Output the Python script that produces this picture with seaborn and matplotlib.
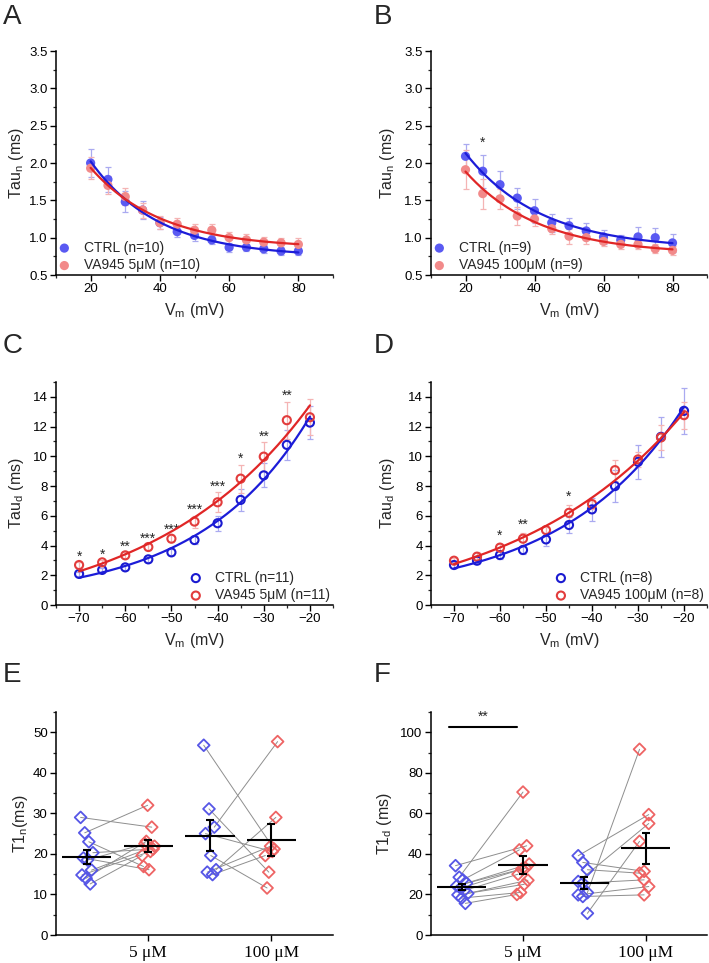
import numpy as np
import matplotlib
matplotlib.use("Agg")
import matplotlib.pyplot as plt
import seaborn as sns
from matplotlib.ticker import MultipleLocator

# ---------------- data ----------------
vm_act = [20, 25, 30, 35, 40, 45, 50, 55, 60, 65, 70, 75, 80]
vm_inact = [-70, -65, -60, -55, -50, -45, -40, -35, -30, -25, -20]

# A: Tau_n, CTRL vs VA945 5 uM
a_ctrl = [2.00, 1.78, 1.48, 1.37, 1.20, 1.08, 1.03, 0.97, 0.87, 0.87, 0.85, 0.82, 0.82]
a_ctrl_err = [0.19, 0.17, 0.14, 0.12, 0.08, 0.07, 0.07, 0.06, 0.06, 0.05, 0.05, 0.05, 0.05]
a_va = [1.93, 1.70, 1.55, 1.37, 1.20, 1.18, 1.10, 1.10, 1.00, 0.97, 0.94, 0.93, 0.91]
a_va_err = [0.15, 0.12, 0.11, 0.10, 0.09, 0.09, 0.08, 0.08, 0.08, 0.08, 0.07, 0.07, 0.08]

# B: Tau_n, CTRL vs VA945 100 uM
b_ctrl = [2.09, 1.89, 1.71, 1.53, 1.36, 1.20, 1.16, 1.09, 1.01, 0.97, 1.01, 1.00, 0.93]
b_ctrl_err = [0.16, 0.22, 0.18, 0.14, 0.16, 0.12, 0.10, 0.11, 0.09, 0.06, 0.13, 0.13, 0.12]
b_va = [1.91, 1.59, 1.52, 1.29, 1.25, 1.12, 1.02, 1.00, 0.95, 0.91, 0.91, 0.85, 0.83]
b_va_err = [0.26, 0.20, 0.13, 0.12, 0.10, 0.07, 0.10, 0.08, 0.06, 0.06, 0.06, 0.06, 0.06]
b_stars = {25: "*"}

# C: Tau_d, CTRL vs VA945 5 uM
c_ctrl = [2.09, 2.36, 2.53, 3.07, 3.54, 4.37, 5.50, 7.07, 8.72, 10.77, 12.27]
c_ctrl_err = [0.15, 0.15, 0.15, 0.15, 0.20, 0.30, 0.50, 0.75, 0.80, 1.00, 1.10]
c_va = [2.69, 2.87, 3.34, 3.90, 4.46, 5.61, 6.91, 8.50, 9.98, 12.43, 12.63]
c_va_err = [0.20, 0.15, 0.20, 0.20, 0.25, 0.40, 0.67, 0.95, 1.00, 1.25, 1.20]
c_stars = {-70: "*", -65: "*", -60: "**", -55: "***", -50: "***", -45: "***",
           -40: "***", -35: "*", -30: "**", -25: "**"}

# D: Tau_d, CTRL vs VA945 100 uM
d_ctrl = [2.69, 2.98, 3.36, 3.70, 4.41, 5.38, 6.43, 8.00, 9.63, 11.31, 13.06]
d_ctrl_err = [0.20, 0.25, 0.25, 0.30, 0.45, 0.55, 0.75, 1.05, 1.15, 1.35, 1.55]
d_va = [2.98, 3.25, 3.86, 4.46, 5.04, 6.20, 6.79, 9.07, 9.79, 11.27, 12.77]
d_va_err = [0.20, 0.30, 0.25, 0.40, 0.20, 0.55, 0.30, 0.70, 0.50, 0.85, 0.90]
d_stars = {-60: "*", -55: "**", -45: "*"}

# E: T1_n paired cells (ctrl -> drug)
e_ctrl5 = [29.0, 25.2, 23.0, 20.3, 19.0, 18.5, 16.0, 14.8, 14.0, 12.6]
e_va5 = [26.6, 32.0, 16.9, 21.2, 16.1, 22.5, 21.9, 20.6, 23.1, 19.6]
e_ctrl100 = [46.8, 31.1, 26.6, 25.0, 19.6, 16.1, 15.5, 14.9]
e_va100 = [21.2, 15.5, 47.7, 20.6, 11.6, 29.0, 21.9, 19.6]

# F: T1_d paired cells (ctrl -> drug)
f_ctrl5 = [34.2, 28.5, 27.2, 25.6, 24.3, 23.1, 21.9, 20.5, 19.8, 18.2, 15.6]
f_va5 = [44.0, 70.5, 42.0, 35.0, 33.0, 32.5, 30.0, 27.0, 25.0, 21.0, 20.0]
f_ctrl100 = [39.1, 35.8, 32.2, 26.4, 25.6, 20.9, 19.8, 19.0, 10.7]
f_va100 = [59.4, 31.4, 30.5, 55.0, 27.2, 91.6, 23.9, 19.8, 46.2]

dose_labels = ["5 \u03bcM", "100 \u03bcM"]

# ---------------- style ----------------
sns.set_style("ticks")
plt.rcParams['font.family'] = ['Liberation Sans', 'DejaVu Sans']
plt.rcParams['mathtext.default'] = 'regular'

BLUE_PT, RED_PT = "#5a5af2", "#f28a8a"
BLUE_ERR, RED_ERR = "#aaaaf0", "#f4b4b4"
BLUE_LN, RED_LN = "#1c1cd8", "#e02626"
BLUE_OPEN, RED_OPEN = "#1a1ad0", "#e23c3c"
BLUE_D, RED_D = "#5656e6", "#ee6464"


def exp_fit(x, y, sign):
    # y = a + b*exp(sign*x/tau), tau found by grid search, a/b by least squares
    x = np.asarray(x, float)
    y = np.asarray(y, float)
    best = None
    for tau in np.linspace(2, 120, 600):
        A = np.column_stack([np.ones_like(x), np.exp(sign * x / tau)])
        coef = np.linalg.lstsq(A, y, rcond=None)[0]
        r = np.sum((A @ coef - y) ** 2)
        if best is None or r < best[0]:
            best = (r, tau, coef)
    _, tau, coef = best
    xs = np.linspace(x.min(), x.max(), 200)
    return xs, coef[0] + coef[1] * np.exp(sign * xs / tau)


def style_axis(ax):
    sns.despine(ax=ax)
    for s in ("left", "bottom"):
        ax.spines[s].set_linewidth(1.1)
        ax.spines[s].set_color("black")
    ax.tick_params(which="major", direction="out", length=4, width=1.0,
                   labelsize=9.5, colors="black", pad=2)
    ax.tick_params(which="minor", direction="out", length=2.5, width=0.9)


def curve_panel(ax, vm, ctrl, ctrl_err, va, va_err, labels, sign, filled):
    for y, err, pc, ec, lc, lab in ((ctrl, ctrl_err, BLUE_PT, BLUE_ERR, BLUE_LN, labels[0]),
                                    (va, va_err, RED_PT, RED_ERR, RED_LN, labels[1])):
        if not filled:
            pc = BLUE_OPEN if lc == BLUE_LN else RED_OPEN
        ax.errorbar(vm, y, yerr=err, fmt="none", ecolor=ec, elinewidth=0.9,
                    capsize=2, capthick=0.9, zorder=2)
        if filled:
            sns.scatterplot(x=vm, y=y, color=pc, s=44, edgecolor="none",
                            label=lab, ax=ax, zorder=3)
        else:
            sns.scatterplot(x=vm, y=y, marker="o", facecolor="none", edgecolor=pc,
                            linewidth=1.5, s=34, label=lab, ax=ax, zorder=3)
        xs, ys = exp_fit(vm, y, sign)
        sns.lineplot(x=xs, y=ys, color=lc, lw=1.6, ax=ax, zorder=4, legend=False)


def add_stars(ax, vm, ctrl, ctrl_err, va, va_err, stars, pad):
    for v, s in stars.items():
        i = vm.index(v)
        top = max(ctrl[i] + ctrl_err[i], va[i] + va_err[i])
        ax.annotate(s, xy=(v, top), xytext=(0, pad), textcoords="offset points",
                    ha="center", va="baseline", fontsize=10)


def paired_panel(ax, data):
    for (pre, post), (p0, p1) in zip(data, ((1, 2), (3, 4))):
        n = len(pre)
        jit = (((np.arange(n) * 3) % n) / max(n - 1, 1) - 0.5) * 0.2
        xa = p0 + jit
        xb = p1 + jit[::-1]
        for i in range(n):
            ax.plot([xa[i], xb[i]], [pre[i], post[i]], color="#8e8e8e", lw=0.7, zorder=1)
        sns.scatterplot(x=xa, y=pre, marker="D", facecolor="none", edgecolor=BLUE_D,
                        linewidth=1.3, s=36, ax=ax, zorder=3)
        sns.scatterplot(x=xb, y=post, marker="D", facecolor="none", edgecolor=RED_D,
                        linewidth=1.3, s=36, ax=ax, zorder=3)
        for vals, x in ((pre, p0), (post, p1)):
            m = np.mean(vals)
            sem = np.std(vals, ddof=1) / np.sqrt(len(vals))
            ax.hlines(m, x - 0.4, x + 0.4, color="black", lw=1.5, zorder=5)
            ax.errorbar(x, m, yerr=sem, fmt="none", ecolor="black", elinewidth=1.5,
                        capsize=3, capthick=1.5, zorder=5)
    ax.set_xlim(0.5, 5.0)
    ax.set_xticks([2, 4])
    ax.set_xticklabels(dose_labels, family=["Liberation Serif", "DejaVu Serif"])


# ---------------- figure ----------------
fig = plt.figure(figsize=(7.09, 9.63), dpi=100)
W, H = 709, 963


def make_ax(left, top, right, bottom):
    return fig.add_axes([left / W, 1 - bottom / H, (right - left) / W, (bottom - top) / H])


axA = make_ax(56, 51, 333, 275)
axB = make_ax(431, 51, 707, 275)
axC = make_ax(56, 382, 333, 605)
axD = make_ax(431, 382, 707, 605)
axE = make_ax(56, 712, 333, 935)
axF = make_ax(431, 712, 707, 935)

leg_kw = dict(frameon=False, fontsize=10, borderaxespad=0.0, handlelength=0.8,
              handletextpad=1.0, labelspacing=0.25, borderpad=0.2)

# A, B
curve_panel(axA, vm_act, a_ctrl, a_ctrl_err, a_va, a_va_err,
            ["CTRL (n=10)", "VA945 5\u03bcM (n=10)"], -1, True)
curve_panel(axB, vm_act, b_ctrl, b_ctrl_err, b_va, b_va_err,
            ["CTRL (n=9)", "VA945 100\u03bcM (n=9)"], -1, True)
add_stars(axB, vm_act, b_ctrl, b_ctrl_err, b_va, b_va_err, b_stars, 6)
for ax in (axA, axB):
    ax.set_xlim(10, 90)
    ax.set_ylim(0.5, 3.5)
    ax.xaxis.set_major_locator(MultipleLocator(20))
    ax.xaxis.set_minor_locator(MultipleLocator(10))
    ax.yaxis.set_major_locator(MultipleLocator(0.5))
    ax.yaxis.set_minor_locator(MultipleLocator(0.25))
    ax.set_ylabel("Tau$_n$ (ms)", fontsize=11.5)
    ax.legend(loc="lower left", **leg_kw)

# C, D
curve_panel(axC, vm_inact, c_ctrl, c_ctrl_err, c_va, c_va_err,
            ["CTRL (n=11)", "VA945 5\u03bcM (n=11)"], 1, False)
curve_panel(axD, vm_inact, d_ctrl, d_ctrl_err, d_va, d_va_err,
            ["CTRL (n=8)", "VA945 100\u03bcM (n=8)"], 1, False)
add_stars(axC, vm_inact, c_ctrl, c_ctrl_err, c_va, c_va_err, c_stars, 1)
add_stars(axD, vm_inact, d_ctrl, d_ctrl_err, d_va, d_va_err, d_stars, 3)
for ax in (axC, axD):
    ax.set_xlim(-75, -15)
    ax.set_ylim(0, 15)
    ax.xaxis.set_major_locator(MultipleLocator(10))
    ax.xaxis.set_minor_locator(MultipleLocator(5))
    ax.yaxis.set_major_locator(MultipleLocator(2))
    ax.yaxis.set_minor_locator(MultipleLocator(1))
    ax.set_ylabel("Tau$_d$ (ms)", fontsize=11.5)
    ax.legend(loc="lower right", **leg_kw)

for ax in (axA, axB, axC, axD):
    ax.set_xlabel("V$_m$ (mV)", fontsize=11.5, labelpad=4)

# E, F
paired_panel(axE, [(e_ctrl5, e_va5), (e_ctrl100, e_va100)])
axE.set_ylim(0, 55)
axE.yaxis.set_major_locator(MultipleLocator(10))
axE.yaxis.set_minor_locator(MultipleLocator(5))
axE.set_ylabel("T1$_n$(ms)", fontsize=11.5)

paired_panel(axF, [(f_ctrl5, f_va5), (f_ctrl100, f_va100)])
axF.set_ylim(0, 110)
axF.yaxis.set_major_locator(MultipleLocator(20))
axF.yaxis.set_minor_locator(MultipleLocator(10))
axF.set_ylabel("T1$_d$ (ms)", fontsize=11.5)
bracket_y = 102.6
axF.plot([0.8, 1.9], [bracket_y, bracket_y], color="black", lw=1.5)
axF.text(1.35, bracket_y + 1.5, "**", ha="center", va="bottom", fontsize=10)

for ax in (axA, axB, axC, axD, axE, axF):
    style_axis(ax)
for ax in (axE, axF):
    ax.tick_params(axis="x", labelsize=12.5, pad=3)

axA.yaxis.set_label_coords(-0.11, 0.5)
axC.yaxis.set_label_coords(-0.11, 0.5)
axE.yaxis.set_label_coords(-0.095, 0.5)
axB.yaxis.set_label_coords(-0.123, 0.5)
axD.yaxis.set_label_coords(-0.123, 0.5)
axF.yaxis.set_label_coords(-0.135, 0.5)

for letter, x, y in (("A", 3, 4), ("B", 374, 4), ("C", 3, 333), ("D", 374, 333),
                     ("E", 3, 662), ("F", 374, 662)):
    fig.text(x / W, 1 - y / H, letter, ha="left", va="top", fontsize=20)

fig.savefig("out.png", dpi=100)
